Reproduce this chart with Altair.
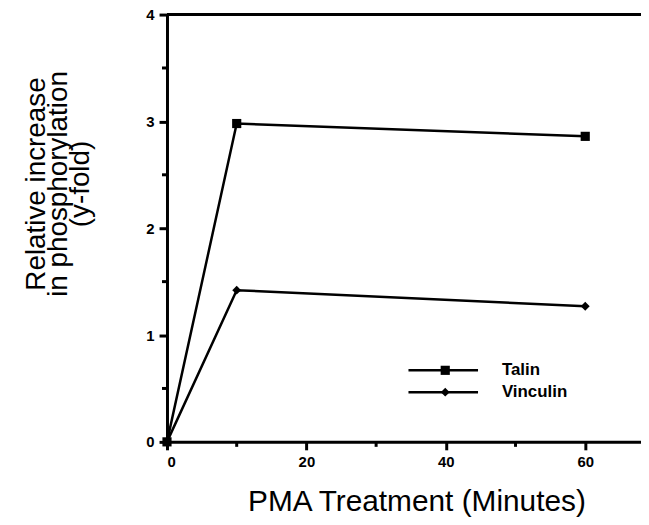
import altair as alt
import pandas as pd

minutes = [0, 10, 60]
talin = [0.0, 2.98, 2.86]
vinculin = [0.0, 1.42, 1.27]
series = ["Talin", "Vinculin"]
x_major = [0, 20, 40, 60]
x_minor = [10, 30, 50]
y_major = [0, 1, 2, 3, 4]
y_minor = [0.5, 1.5, 2.5, 3.5]

rows = []
for m, t in zip(minutes, talin):
    rows.append({"min": m, "val": t, "series": "Talin"})
for m, v in zip(minutes, vinculin):
    rows.append({"min": m, "val": v, "series": "Vinculin"})
df = pd.DataFrame(rows)

FONT = "Liberation Sans"
LW = 2.5
AW = 3
xs = alt.Scale(domain=[0, 68], nice=False, zero=False)
ys = alt.Scale(domain=[0, 4], nice=False)
shape_scale = alt.Scale(domain=series, range=["square", "diamond"])
size_scale = alt.Scale(domain=series, range=[85, 80])

xaxis = alt.Axis(values=x_major, title="PMA Treatment (Minutes)", titleFont=FONT,
                 titleFontSize=30, titleFontWeight="normal", titleColor="black",
                 titleX=251, titleY=69, titleBaseline="alphabetic", titleAlign="center",
                 labelFont=FONT, labelFontSize=15, labelFontWeight="bold",
                 labelColor="black", tickColor="black", tickSize=8, tickWidth=AW,
                 domainColor="black", domainWidth=AW, grid=False, labelPadding=5,
                 format="d")
yaxis = alt.Axis(values=y_major, title=["Relative increase", "in phosphorylation", "(y-fold)"],
                 titleFont=FONT, titleFontSize=28, titleFontWeight="normal", titleColor="black",
                 titleLineHeight=22, titleAngle=270, titleX=-123, titleY=170,
                 titleBaseline="alphabetic", titleAlign="center",
                 labelFont=FONT, labelFontSize=15,
                 labelFontWeight="bold", labelColor="black", tickColor="black", tickSize=8,
                 tickWidth=AW, domainColor="black", domainWidth=AW, grid=False, labelPadding=5,
                 format="d")

X = lambda: alt.X("min:Q", scale=xs, axis=xaxis)
Y = lambda: alt.Y("val:Q", scale=ys, axis=yaxis)

base = alt.Chart(df)
lines = base.mark_line(color="black", strokeWidth=LW).encode(
    x=X(), y=Y(), detail="series:N")
pts = base.mark_point(filled=True, color="black", opacity=1).encode(
    x=X(), y=Y(),
    shape=alt.Shape("series:N", scale=shape_scale, legend=None),
    size=alt.Size("series:N", scale=size_scale, legend=None),
)

top = alt.Chart(pd.DataFrame({"val": [4]})).mark_rule(color="black", strokeWidth=AW).encode(
    y=Y())

xm = alt.Chart(pd.DataFrame({"min": x_minor})).mark_rule(color="black", strokeWidth=AW).encode(
    x=X(), y=alt.value(430), y2=alt.value(435))
ym = alt.Chart(pd.DataFrame({"val": y_minor})).mark_rule(color="black", strokeWidth=AW).encode(
    y=Y(), x=alt.value(-5), x2=alt.value(0))

# legend
lx0, lx1, lxm, ltx = 243, 313, 280, 337
leg_layers = []
for i, s in enumerate(series):
    ly = 358 + 22 * i
    d = alt.Chart(pd.DataFrame({"series": [s]}))
    leg_layers.append(d.mark_rule(color="black", strokeWidth=LW).encode(
        x=alt.value(lx0), x2=alt.value(lx1), y=alt.value(ly)))
    leg_layers.append(d.mark_point(filled=True, color="black", opacity=1).encode(
        x=alt.value(lxm), y=alt.value(ly),
        shape=alt.Shape("series:N", scale=shape_scale, legend=None),
        size=alt.Size("series:N", scale=size_scale, legend=None)))
    leg_layers.append(d.mark_text(align="left", baseline="middle", font=FONT, fontSize=17,
                                  fontWeight="bold", color="black").encode(
        x=alt.value(ltx), y=alt.value(ly), text="series:N"))

chart = alt.layer(lines, top, xm, ym, pts, *leg_layers).properties(
    width=477, height=430, autosize=alt.AutoSizeParams(type="none"),
    padding={"left": 160, "top": 5, "right": 0, "bottom": 74}
).configure_view(stroke=None).configure_axis(
    grid=False, labelFont=FONT, labelFontSize=15, labelFontWeight="bold", labelColor="black",
    tickWidth=AW, domainWidth=AW, tickColor="black", domainColor="black", tickSize=8
).configure(background="white")

chart.save("out.html", embed_options={"renderer": "svg", "actions": False})
